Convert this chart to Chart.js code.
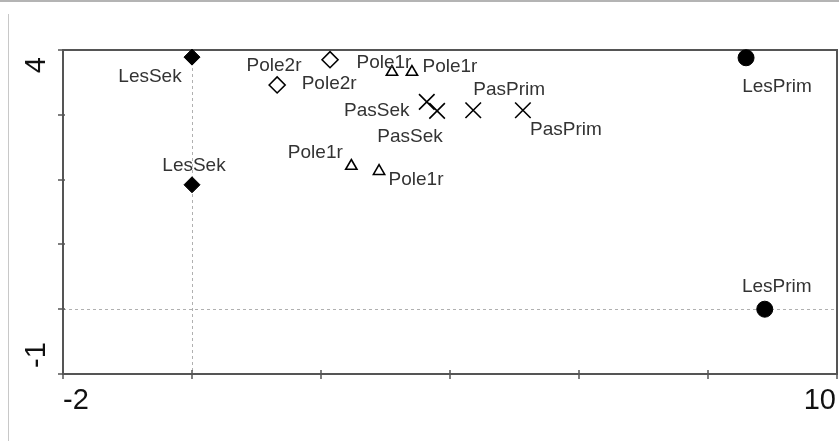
<!DOCTYPE html>
<html>
<head>
<meta charset="utf-8">
<script src="https://cdn.jsdelivr.net/npm/chart.js@4"></script>
<style>
  html, body { margin: 0; padding: 0; background: #fff; }
  #wrap { position: relative; width: 839px; height: 441px; overflow: hidden; }
  #chart { position: absolute; left: 0; top: 0; }
  #frameTop { position: absolute; left: 0; top: 0; width: 839px; height: 2px; background: #b4b4b4; }
  #frameLeft { position: absolute; left: 8px; top: 14px; width: 1px; height: 427px; background: #c8c8c8; }
</style>
</head>
<body>
<div id="wrap">
  <canvas id="chart" width="839" height="441"></canvas>
  <div id="frameTop"></div>
  <div id="frameLeft"></div>
</div>
<script>
// Axis ticks and the labelled ends
const xTickValues = [-2, 0, 2, 4, 6, 8, 10];
const yTickValues = [-1, 0, 1, 2, 3, 4];
const xTickLabels = ['-2', '10'];
const yTickLabels = ['-1', '4'];

// Point values
const lesSekX = [0, 0];
const lesSekY = [3.89, 1.92];
const lesPrimX = [8.59, 8.88];
const lesPrimY = [3.88, 0.0];
const pole2rX = [2.14, 1.32];
const pole2rY = [3.85, 3.46];
const pole1rX = [3.10, 3.41, 2.47, 2.90];
const pole1rY = [3.66, 3.66, 2.21, 2.13];
const pasSekX = [3.64, 3.80];
const pasSekY = [3.20, 3.06];
const pasPrimX = [4.36, 5.13];
const pasPrimY = [3.07, 3.07];

// where each point's name sits, in px from the marker
const lesSekLabelPos = [[-42, 20], [2, -19]];
const lesPrimLabelPos = [[31, 29], [12, -22]];
const pole2rLabelPos = [[-56, 6], [52, -1]];
const pole1rLabelPos = [[-8, -9], [38, -5], [-36, -13], [37, 9]];
const pasSekLabelPos = [[-50, 9], [-27, 26]];
const pasPrimLabelPos = [[36, -20], [43, 20]];

const toPoints = (xs, ys) => xs.map((x, i) => ({ x, y: ys[i] }));

const FONT = "'Liberation Sans', Arial, sans-serif";

const series = [
  { name: 'LesSek', xs: lesSekX, ys: lesSekY, pos: lesSekLabelPos, style: 'rectRot', r: 8, fill: '#000', bw: 1 },
  { name: 'LesPrim', xs: lesPrimX, ys: lesPrimY, pos: lesPrimLabelPos, style: 'circle', r: 8, fill: '#000', bw: 1 },
  { name: 'Pole2r', xs: pole2rX, ys: pole2rY, pos: pole2rLabelPos, style: 'rectRot', r: 8, fill: '#fff', bw: 1.6 },
  { name: 'Pole1r', xs: pole1rX, ys: pole1rY, pos: pole1rLabelPos, style: 'triangle', r: 6.5, fill: '#fff', bw: 1.6 },
  { name: 'PasSek', xs: pasSekX, ys: pasSekY, pos: pasSekLabelPos, style: 'crossRot', r: 11, fill: '#fff', bw: 1.6 },
  { name: 'PasPrim', xs: pasPrimX, ys: pasPrimY, pos: pasPrimLabelPos, style: 'crossRot', r: 11, fill: '#fff', bw: 1.6 }
];

// box, ticks, dotted zero lines, axis numbers and point names
const decor = {
  id: 'decor',
  beforeDatasetsDraw(chart) {
    const { ctx, chartArea: a, scales: { x, y } } = chart;
    ctx.save();

    // dotted lines through 0
    ctx.strokeStyle = '#b0b0b0';
    ctx.lineWidth = 1;
    ctx.setLineDash([3, 3]);
    const x0 = Math.round(x.getPixelForValue(0)) + 0.5;
    const y0 = Math.round(y.getPixelForValue(0)) + 0.5;
    ctx.beginPath();
    ctx.moveTo(x0, a.top); ctx.lineTo(x0, a.bottom);
    ctx.moveTo(a.left, y0); ctx.lineTo(a.right, y0);
    ctx.stroke();
    ctx.setLineDash([]);

    // frame
    ctx.strokeStyle = '#555';
    ctx.lineWidth = 2;
    ctx.strokeRect(a.left, a.top, a.right - a.left, a.bottom - a.top);

    // tick marks across the axes
    ctx.lineWidth = 1.5;
    ctx.beginPath();
    xTickValues.forEach(v => {
      const px = Math.round(x.getPixelForValue(v));
      ctx.moveTo(px, a.bottom - 4); ctx.lineTo(px, a.bottom + 5);
    });
    yTickValues.forEach(v => {
      const py = Math.round(y.getPixelForValue(v));
      ctx.moveTo(a.left - 5, py); ctx.lineTo(a.left + 2, py);
    });
    ctx.stroke();
    ctx.restore();
  },
  afterDatasetsDraw(chart) {
    const { ctx, chartArea: a, scales: { x, y } } = chart;
    ctx.save();

    // axis numbers
    ctx.fillStyle = '#111';
    ctx.font = '29px ' + FONT;
    ctx.textBaseline = 'middle';
    xTickLabels.forEach((t, i) => {
      const px = x.getPixelForValue(Number(t));
      ctx.textAlign = i === 0 ? 'left' : 'right';
      ctx.fillText(t, i === 0 ? px : px - 1, a.bottom + 27);
    });
    yTickLabels.forEach((t, i) => {
      const py = y.getPixelForValue(Number(t));
      ctx.save();
      ctx.translate(37, i === 0 ? py - 6 : py + 7);
      ctx.rotate(-Math.PI / 2);
      ctx.textAlign = i === 0 ? 'left' : 'right';
      ctx.fillText(t, 0, 0);
      ctx.restore();
    });

    // point names
    ctx.fillStyle = '#333';
    ctx.font = '19px ' + FONT;
    ctx.textAlign = 'center';
    ctx.textBaseline = 'middle';
    series.forEach((s, di) => {
      chart.getDatasetMeta(di).data.forEach((pt, j) => {
        const [dx, dy] = s.pos[j];
        ctx.fillText(s.name, pt.x + dx, pt.y + dy);
      });
    });
    ctx.restore();
  }
};

new Chart(document.getElementById('chart'), {
  type: 'scatter',
  data: {
    datasets: series.map(s => ({
      label: s.name,
      data: toPoints(s.xs, s.ys),
      pointStyle: s.style,
      pointRadius: s.r,
      pointHoverRadius: s.r,
      pointBackgroundColor: s.fill,
      pointBorderColor: '#000',
      pointBorderWidth: s.bw,
      clip: false
    }))
  },
  options: {
    responsive: false,
    animation: false,
    events: [],
    layout: { autoPadding: false, padding: { left: 63, right: 2, top: 50, bottom: 67 } },
    plugins: { legend: { display: false }, tooltip: { enabled: false } },
    scales: {
      x: {
        type: 'linear', min: -2, max: 10,
        ticks: { display: false, stepSize: 2 },
        grid: { display: false, drawTicks: false },
        border: { display: false }
      },
      y: {
        type: 'linear', min: -1, max: 4,
        ticks: { display: false, stepSize: 1 },
        grid: { display: false, drawTicks: false },
        border: { display: false }
      }
    }
  },
  plugins: [decor]
});
</script>
</body>
</html>
